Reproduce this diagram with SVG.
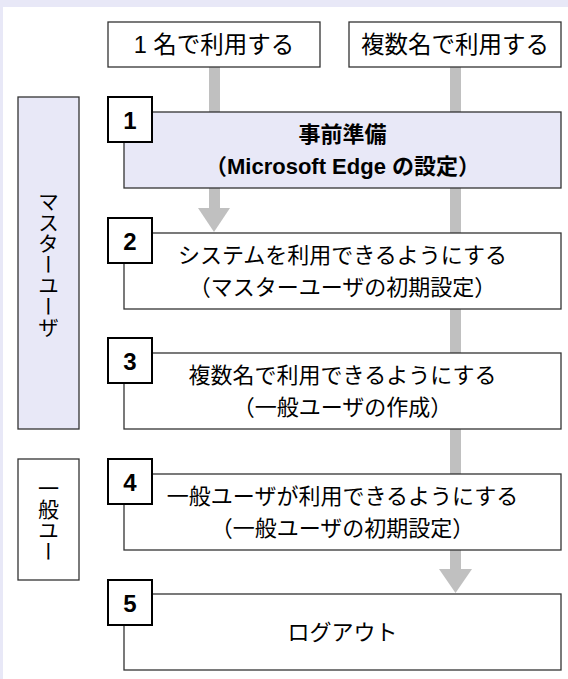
<svg xmlns="http://www.w3.org/2000/svg" width="568" height="679" viewBox="0 0 568 679">
<style>
.t{font-family:"Liberation Sans","Noto Sans CJK JP",sans-serif;font-size:22px;fill:#000;text-anchor:middle}
.top{font-size:23.5px}
.b{font-weight:bold}
.num{font-family:"Liberation Sans",Arial,sans-serif;font-size:24px;font-weight:bold;fill:#000;text-anchor:middle}
.lbl{fill:#fff;stroke:#333;stroke-width:1.3}
.main{fill:#fff;stroke:#333;stroke-width:1.3}
.nbox{fill:#fff;stroke:#000;stroke-width:2}
.v{font-family:"Noto Sans CJK JP",sans-serif;font-size:21px;fill:#000;writing-mode:vertical-rl;text-anchor:middle}
.bar{fill:#c0c0c0}
</style>
<rect x="0" y="0" width="568" height="679" fill="#e8e8f7"/>
<rect x="3" y="7" width="565" height="672" fill="#fff"/>

<g id="connectors">
  <rect class="bar" x="209" y="67" width="11" height="142"/>
  <polygon class="bar" points="198,208 230,208 214,232"/>
  <rect class="bar" x="450" y="67" width="11" height="503"/>
  <polygon class="bar" points="439,569 472,569 455.5,593"/>
</g>

<g id="user-single">
  <rect class="lbl" x="108" y="22" width="212" height="45"/>
  <text class="t top" x="214" y="53">1 名で利用する</text>
</g>
<g id="user-multi">
  <rect class="lbl" x="349" y="22" width="212" height="45"/>
  <text class="t top" x="455" y="53">複数名で利用する</text>
</g>

<g id="role-master">
  <rect x="18" y="97" width="61" height="332" fill="#e8e8f7" stroke="#333" stroke-width="1.3"/>
  <text class="v" x="48.5" y="264">マスターユーザ</text>
</g>
<g id="role-general">
  <rect x="18" y="459" width="61" height="121" fill="#fff" stroke="#333" stroke-width="1.3"/>
  <text class="v" x="48.5" y="520">一般ユー</text>
</g>

<g id="step1">
  <rect class="main" x="124" y="112" width="437" height="76" style="fill:#e8e8f7"/>
  <rect class="nbox" x="108" y="97" width="44" height="45"/>
  <text class="num" x="130" y="129">1</text>
  <text class="t b" x="342.5" y="142">事前準備</text>
  <text class="t b" x="342.5" y="174">（Microsoft Edge の設定）</text>
</g>
<g id="step2">
  <rect class="main" x="124" y="233" width="437" height="76"/>
  <rect class="nbox" x="108" y="218" width="44" height="45"/>
  <text class="num" x="130" y="250">2</text>
  <text class="t" x="342.5" y="263">システムを利用できるようにする</text>
  <text class="t" x="342.5" y="295">（マスターユーザの初期設定）</text>
</g>
<g id="step3">
  <rect class="main" x="124" y="353" width="437" height="76"/>
  <rect class="nbox" x="108" y="338" width="44" height="45"/>
  <text class="num" x="130" y="370">3</text>
  <text class="t" x="342.5" y="383">複数名で利用できるようにする</text>
  <text class="t" x="342.5" y="415">（一般ユーザの作成）</text>
</g>
<g id="step4">
  <rect class="main" x="124" y="474" width="437" height="76"/>
  <rect class="nbox" x="108" y="459" width="44" height="45"/>
  <text class="num" x="130" y="491">4</text>
  <text class="t" x="342.5" y="504">一般ユーザが利用できるようにする</text>
  <text class="t" x="342.5" y="536">（一般ユーザの初期設定）</text>
</g>
<g id="step5">
  <rect class="main" x="124" y="594" width="437" height="76"/>
  <rect class="nbox" x="108" y="580" width="44" height="45"/>
  <text class="num" x="130" y="612">5</text>
  <text class="t" x="342.5" y="640">ログアウト</text>
</g>
</svg>
